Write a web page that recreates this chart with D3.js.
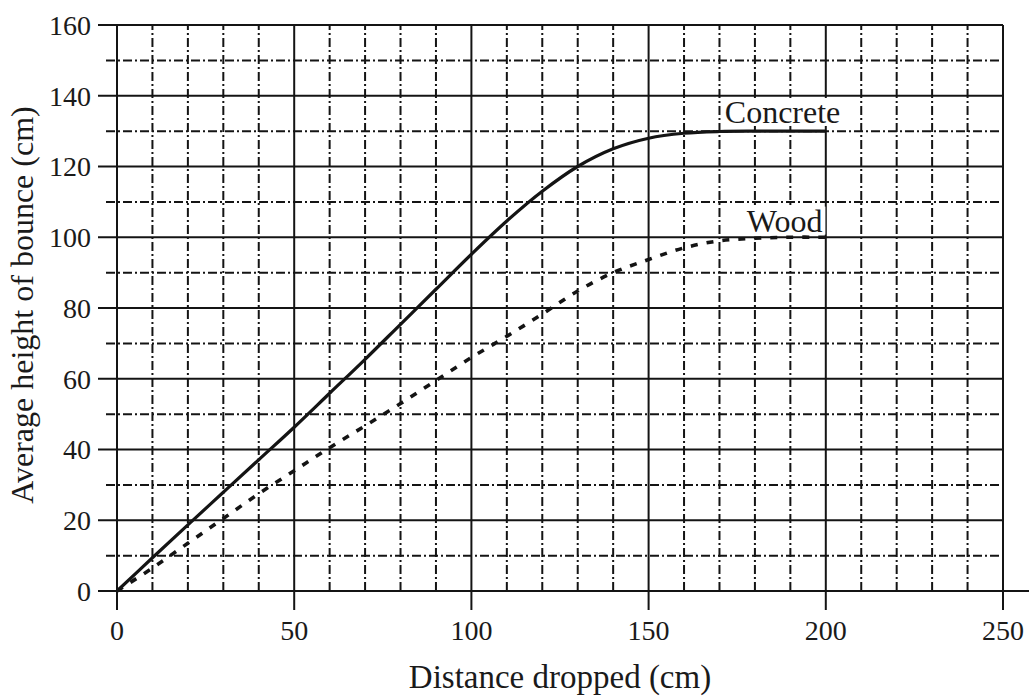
<!DOCTYPE html>
<html>
<head>
<meta charset="utf-8">
<script src="https://cdn.jsdelivr.net/npm/d3@7"></script>
<style>
  html, body { margin: 0; padding: 0; background: #fff; }
  svg { display: block; }
  text { font-family: "Liberation Serif", "DejaVu Serif", serif; fill: #1a1a1a; }
</style>
</head>
<body>
<svg id="chart" width="1029" height="697"></svg>
<script>
// Distance dropped (cm) at which each bounce height was recorded
const distance = [0, 10, 20, 30, 40, 50, 60, 70, 80, 90, 100, 110, 120, 130, 140, 150, 160, 170, 180, 190, 200];
// Average height of bounce (cm) on each surface
const concrete = [0, 9.4, 18.7, 27.9, 37.1, 46.3, 55.9, 65.5, 75.4, 85.3, 95.2, 104.6, 113, 120, 125, 128, 129.4, 129.9, 130, 130, 130];
const wood = [0, 6.5, 13.5, 20.5, 27.5, 34, 40.5, 46.7, 53, 59.5, 66, 72, 78.3, 84.8, 90, 93.7, 97, 99, 99.7, 100, 100];

// Axis tick labels and grid spacing
const xTickLabels = [0, 50, 100, 150, 200, 250];
const yTickLabels = [0, 20, 40, 60, 80, 100, 120, 140, 160];
const xGrid = d3.range(0, 251, 10);
const yGrid = d3.range(0, 161, 10);

// Curve labels
const curveLabels = [
  { text: "Concrete", x: 171.5, y: 132.3 },
  { text: "Wood", x: 177.7, y: 101.6 }
];

const svg = d3.select("#chart");
const x = d3.scaleLinear().domain([0, 250]).range([117, 1003]);
const y = d3.scaleLinear().domain([0, 160]).range([591, 25]);

const ink = "#141414";
const dashDot = "9,3,2,3";

// Horizontal grid: solid every 20, dash-dot at the odd tens
const g = svg.append("g");
yGrid.forEach(v => {
  const major = v % 20 === 0;
  g.append("line")
    .attr("x1", major ? x(0) - 19 : x(0) - 11)
    .attr("x2", v === 0 ? 1029 : x(250))
    .attr("y1", y(v)).attr("y2", y(v))
    .attr("stroke", ink)
    .attr("stroke-width", 2)
    .attr("stroke-dasharray", major ? null : dashDot);
});

// Vertical grid: solid every 50 (with ticks below the axis), dash-dot elsewhere
xGrid.forEach(v => {
  const major = v % 50 === 0;
  g.append("line")
    .attr("x1", x(v)).attr("x2", x(v))
    .attr("y1", major ? y(0) + 19 : y(0))
    .attr("y2", y(160))
    .attr("stroke", ink)
    .attr("stroke-width", 2)
    .attr("stroke-dasharray", major ? null : dashDot);
});

// Tick labels
svg.append("g").selectAll("text").data(xTickLabels).join("text")
  .attr("x", d => x(d)).attr("y", 640)
  .attr("text-anchor", "middle")
  .attr("font-size", 28)
  .text(d => d);

svg.append("g").selectAll("text").data(yTickLabels).join("text")
  .attr("x", 91).attr("y", d => y(d))
  .attr("dy", "0.35em")
  .attr("text-anchor", "end")
  .attr("font-size", 28)
  .text(d => d);

// Axis titles
svg.append("text")
  .attr("x", (x(0) + x(250)) / 2).attr("y", 688)
  .attr("text-anchor", "middle")
  .attr("font-size", 33)
  .text("Distance dropped (cm)");

svg.append("text")
  .attr("transform", `translate(33, ${(y(0) + y(160)) / 2 - 3}) rotate(-90)`)
  .attr("text-anchor", "middle")
  .attr("font-size", 32)
  .text("Average height of bounce (cm)");

// Curve labels sit on white boxes that knock out the grid behind them
const labelG = svg.append("g");
curveLabels.forEach(d => {
  const bg = labelG.append("rect").attr("fill", "#fff");
  const t = labelG.append("text")
    .attr("x", x(d.x)).attr("y", y(d.y))
    .attr("font-size", 32)
    .text(d.text);
  const b = t.node().getBBox();
  bg.attr("x", b.x - 3).attr("y", b.y + 4)
    .attr("width", b.width + 6).attr("height", b.height - 8);
});

// Bounce curves
const line = d3.line().x(d => x(d[0])).y(d => y(d[1])).curve(d3.curveCatmullRom);

svg.append("path")
  .datum(d3.zip(distance, concrete))
  .attr("d", line)
  .attr("fill", "none")
  .attr("stroke", ink)
  .attr("stroke-width", 3.2);

svg.append("path")
  .datum(d3.zip(distance, wood))
  .attr("d", line)
  .attr("fill", "none")
  .attr("stroke", ink)
  .attr("stroke-width", 3.6)
  .attr("stroke-dasharray", "7,9");
</script>
</body>
</html>
